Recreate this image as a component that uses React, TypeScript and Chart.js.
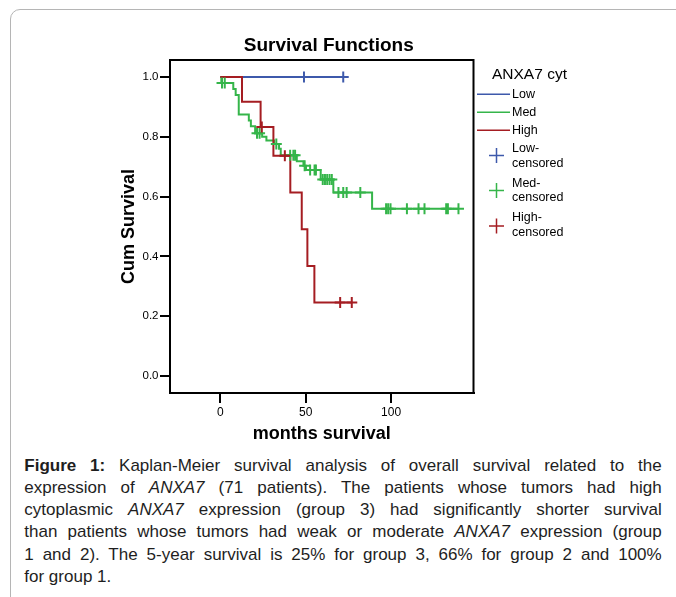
import { useEffect, useRef } from "react";
import { Chart, registerables } from "chart.js";

Chart.register(...registerables);

// ---------- data ----------
const chartTitle = "Survival Functions";
const xAxisTitle = "months survival";
const yAxisTitle = "Cum Survival";
const legendTitle = "ANXA7 cyt";
const groupLabels = ["Low", "Med", "High"];
const censoredSuffix = "censored";

const xTickValues = [0, 50, 100];
const yTickValues = [0, 0.2, 0.4, 0.6, 0.8, 1.0];

// Low group (blue)
const lowStepTimes = [0, 72];
const lowStepSurv = [1.0, 1.0];
const lowCensorTimes = [49, 72];

// Med group (green)
const medStepTimes = [0, 0.6, 7.6, 9.0, 10.8, 16.7, 17.9, 20.4, 24.5, 27.0, 31.5, 34.4, 35.4, 44.8, 48.7, 50.2, 58.8, 66.2, 88.9, 139.5];
const medStepSurv = [1.0, 0.98, 0.96, 0.94, 0.875, 0.855, 0.835, 0.812, 0.8, 0.788, 0.776, 0.76, 0.738, 0.718, 0.703, 0.689, 0.657, 0.614, 0.559, 0.559];
const medCensorTimes = [1.0, 2.6, 21.5, 23.0, 32.8, 40.9, 42.8, 43.8, 49.4, 52.6, 55.2, 56.0, 60.0, 61.3, 62.6, 64.0, 65.3, 69.2, 72.0, 74.0, 82.0, 97.1, 98.3, 99.7, 109.3, 116.1, 119.6, 132.3, 133.3, 139.5];

// High group (red)
const highStepTimes = [0, 12.7, 23.6, 31.1, 41.0, 47.7, 51.0, 55.1, 77.0];
const highStepSurv = [1.0, 0.917, 0.833, 0.737, 0.614, 0.491, 0.368, 0.246, 0.246];
const highCensorTimes = [24.3, 37.8, 70.2, 77.0];

// ---------- styles ----------
const FAMILY = "'Liberation Sans', Arial, Helvetica, sans-serif";
const COLOR_LOW = "#3d59ab";
const COLOR_MED = "#35b54a";
const COLOR_HIGH = "#a51d22";
const groupColors = [COLOR_LOW, COLOR_MED, COLOR_HIGH];

function stepPoints(times: number[], surv: number[]) {
  return times.map((t, i) => ({ x: t, y: surv[i] }));
}

function censorPoints(censor: number[], times: number[], surv: number[]) {
  return censor.map((c) => {
    let idx = 0;
    for (let i = 0; i < times.length; i++) if (times[i] <= c) idx = i;
    return { x: c, y: surv[idx] };
  });
}

const overlayPlugin = {
  id: "kmOverlay",
  beforeDatasetsDraw(chart: any) {
    const { ctx, chartArea: a } = chart;
    ctx.save();
    ctx.strokeStyle = "#000";
    ctx.lineWidth = 2;
    ctx.strokeRect(a.left, a.top, a.right - a.left, a.bottom - a.top);
    ctx.restore();
  },
  afterDraw(chart: any) {
    const { ctx, chartArea: a } = chart;
    ctx.save();
    // title
    ctx.fillStyle = "#000";
    ctx.font = `bold 19px ${FAMILY}`;
    ctx.textAlign = "center";
    ctx.textBaseline = "alphabetic";
    ctx.fillText(chartTitle, (a.left + a.right) / 2 + 7, a.top - 9.3);

    // legend
    const lx = a.right + 3.5;
    ctx.textAlign = "left";
    ctx.font = `15.5px ${FAMILY}`;
    ctx.fillText(legendTitle, lx + 15, a.top + 19);

    ctx.font = `12.5px ${FAMILY}`;
    ctx.textBaseline = "middle";
    const lineYs = [94.3, 112.3, 130.3];
    groupLabels.forEach((lab, i) => {
      const y = lineYs[i];
      ctx.strokeStyle = groupColors[i];
      ctx.lineWidth = 1.5;
      ctx.beginPath();
      ctx.moveTo(lx, y);
      ctx.lineTo(lx + 33, y);
      ctx.stroke();
      ctx.fillStyle = "#000";
      ctx.fillText(lab, lx + 35, y);
    });
    const crossYs = [155.5, 190.5, 226];
    const textYs = [
      [149, 163.5],
      [183.5, 198],
      [218, 232.5],
    ];
    groupLabels.forEach((lab, i) => {
      const cx = lx + 19.5;
      const cy = crossYs[i];
      ctx.strokeStyle = groupColors[i];
      ctx.lineWidth = 1.5;
      ctx.beginPath();
      ctx.moveTo(cx - 7.5, cy);
      ctx.lineTo(cx + 7.5, cy);
      ctx.moveTo(cx, cy - 7.5);
      ctx.lineTo(cx, cy + 7.5);
      ctx.stroke();
      ctx.fillStyle = "#000";
      ctx.fillText(lab + "-", lx + 35, textYs[i][0]);
      ctx.fillText(censoredSuffix, lx + 35, textYs[i][1]);
    });
    ctx.restore();
  },
};

export default function App() {
  const ref = useRef<HTMLCanvasElement>(null);

  useEffect(() => {
    if (!ref.current) return;
    const stepDs = (label: string, times: number[], surv: number[], color: string, order: number) => ({
      type: "line" as const,
      label,
      data: stepPoints(times, surv),
      borderColor: color,
      backgroundColor: color,
      borderWidth: 2,
      stepped: "before" as const,
      pointRadius: 0,
      fill: false,
      order,
    });
    const censorDs = (label: string, censor: number[], times: number[], surv: number[], color: string) => ({
      type: "line" as const,
      label,
      data: censorPoints(censor, times, surv),
      borderColor: color,
      backgroundColor: color,
      showLine: false,
      pointStyle: "cross" as const,
      pointRadius: 5.5,
      pointBorderWidth: 2,
      borderWidth: 2,
      order: 0,
    });

    const chart = new Chart(ref.current, {
      type: "line",
      data: {
        datasets: [
          stepDs(groupLabels[2], highStepTimes, highStepSurv, COLOR_HIGH, 1),
          stepDs(groupLabels[1], medStepTimes, medStepSurv, COLOR_MED, 2),
          stepDs(groupLabels[0], lowStepTimes, lowStepSurv, COLOR_LOW, 3),
          censorDs(groupLabels[2] + "-" + censoredSuffix, highCensorTimes, highStepTimes, highStepSurv, COLOR_HIGH),
          censorDs(groupLabels[1] + "-" + censoredSuffix, medCensorTimes, medStepTimes, medStepSurv, COLOR_MED),
          censorDs(groupLabels[0] + "-" + censoredSuffix, lowCensorTimes, lowStepTimes, lowStepSurv, COLOR_LOW),
        ] as any,
      },
      options: {
        animation: false,
        responsive: true,
        maintainAspectRatio: false,
        events: [],
        layout: { padding: { left: 118, top: 60, right: 202.5, bottom: 10.4 } },
        plugins: {
          legend: { display: false },
          title: { display: false },
          tooltip: { enabled: false },
        },
        scales: {
          x: {
            type: "linear",
            min: -29.47,
            max: 148.3,
            afterBuildTicks: (s: any) => {
              s.ticks = xTickValues.map((v) => ({ value: v }));
            },
            afterFit: (s: any) => {
              s.height = 51.6;
            },
            ticks: {
              color: "#000",
              font: { size: 12, family: FAMILY },
              padding: 2,
              maxRotation: 0,
              autoSkip: false,
              callback: (v: any) => String(v),
            },
            grid: {
              display: true,
              drawOnChartArea: false,
              drawTicks: true,
              tickLength: 10,
              color: "#000",
              lineWidth: 2,
            },
            border: { display: true, color: "#000", width: 2 },
            title: {
              display: true,
              text: xAxisTitle,
              color: "#000",
              font: { size: 18, weight: "bold", family: FAMILY },
              padding: 0,
            },
          },
          y: {
            type: "linear",
            min: -0.057,
            max: 1.057,
            afterBuildTicks: (s: any) => {
              s.ticks = yTickValues.map((v) => ({ value: v }));
            },
            afterFit: (s: any) => {
              s.width = 52;
            },
            ticks: {
              color: "#000",
              font: { size: 11.5, family: FAMILY },
              padding: 1.5,
              autoSkip: false,
              callback: (v: any) => Number(v).toFixed(1),
            },
            grid: {
              display: true,
              drawOnChartArea: false,
              drawTicks: true,
              tickLength: 10,
              color: "#000",
              lineWidth: 2,
            },
            border: { display: true, color: "#000", width: 2 },
            title: {
              display: true,
              text: yAxisTitle,
              color: "#000",
              font: { size: 18, weight: "bold", family: FAMILY },
              padding: 0,
            },
          },
        },
      } as any,
      plugins: [overlayPlugin],
    });
    return () => chart.destroy();
  }, []);

  const lineStyle: any = {
    height: 22.3,
    lineHeight: "22.3px",
    textAlign: "justify",
    textAlignLast: "justify",
    whiteSpace: "nowrap",
  };

  return (
    <div
      style={{
        position: "absolute",
        left: 0,
        top: 0,
        width: 676,
        height: 597,
        overflow: "hidden",
        background: "#fff",
      }}
    >
      <div
        style={{
          position: "absolute",
          left: 10,
          top: 9,
          width: 800,
          height: 800,
          border: "1px solid #b5b5b5",
          borderTopLeftRadius: 10,
          boxSizing: "border-box",
        }}
      />
      <div style={{ position: "absolute", left: 0, top: 0, width: 676, height: 455 }}>
        <canvas ref={ref} />
      </div>
      <div
        style={{
          position: "absolute",
          left: 24.3,
          top: 454.6,
          width: 637.4,
          fontFamily: FAMILY,
          fontSize: 17,
          color: "#1e1e1e",
        }}
      >
        <div style={lineStyle}>
          <b>Figure 1:</b> Kaplan-Meier survival analysis of overall survival related to the
        </div>
        <div style={lineStyle}>
          expression of <i>ANXA7</i> (71 patients). The patients whose tumors had high
        </div>
        <div style={lineStyle}>
          cytoplasmic <i>ANXA7</i> expression (group 3) had significantly shorter survival
        </div>
        <div style={lineStyle}>
          than patients whose tumors had weak or moderate <i>ANXA7</i> expression (group
        </div>
        <div style={lineStyle}>
          1 and 2). The 5-year survival is 25% for group 3, 66% for group 2 and 100%
        </div>
        <div style={{ ...lineStyle, textAlignLast: "left" }}>for group 1.</div>
      </div>
    </div>
  );
}
